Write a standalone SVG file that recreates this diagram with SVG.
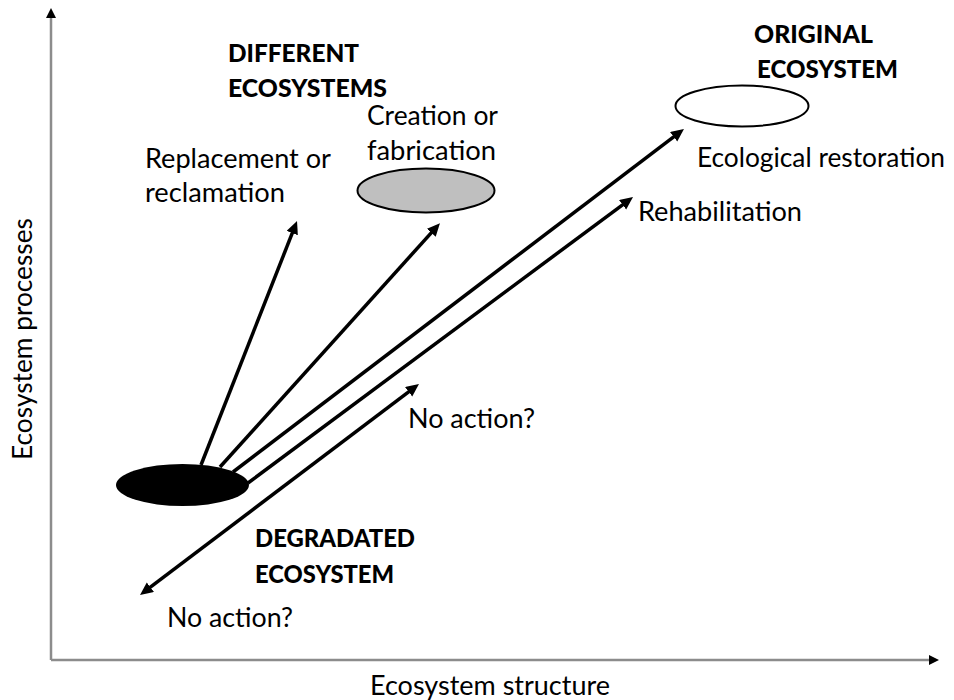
<svg xmlns="http://www.w3.org/2000/svg" width="954" height="700" viewBox="0 0 954 700">
<style>
.t{font-family:Lato,"Open Sans","Liberation Sans",sans-serif;font-size:26px;fill:#000}
.b{font-weight:900;font-size:25px}
.ax{stroke:#8c8c8c;stroke-width:2.5;fill:none}
.ar{stroke:#000;stroke-width:3.5;fill:none}
</style>
<defs>
<marker id="ah" markerUnits="userSpaceOnUse" markerWidth="16" markerHeight="14" refX="5" refY="6" orient="auto-start-reverse"><path d="M0,0 L13,6 L0,12 z" fill="#000"/></marker>
<marker id="axh" markerUnits="userSpaceOnUse" markerWidth="12" markerHeight="12" refX="2" refY="5" orient="auto"><path d="M0,0 L10,5 L0,10 z" fill="#000"/></marker>
</defs>
<rect width="954" height="700" fill="#fff"/>
<g id="axes">
<line class="ax" x1="51" y1="660" x2="51" y2="16" marker-end="url(#axh)"/>
<line class="ax" x1="51" y1="660" x2="931" y2="660" marker-end="url(#axh)"/>
<text class="t" x="490" y="695" text-anchor="middle" textLength="240" lengthAdjust="spacingAndGlyphs">Ecosystem structure</text>
<text class="t" transform="translate(32,339) rotate(-90)" text-anchor="middle" textLength="242" lengthAdjust="spacingAndGlyphs">Ecosystem processes</text>
</g>
<g id="connectors">
<line class="ar" x1="201" y1="465" x2="294.1" y2="228.4" marker-end="url(#ah)"/>
<line class="ar" x1="220" y1="467" x2="434.6" y2="229.1" marker-end="url(#ah)"/>
<line class="ar" x1="233" y1="472" x2="677.6" y2="133.8" marker-end="url(#ah)"/>
<line class="ar" x1="248" y1="483" x2="626.6" y2="201.8" marker-end="url(#ah)"/>
<line class="ar" x1="146.4" y1="590.2" x2="412.6" y2="388.8" marker-start="url(#ah)" marker-end="url(#ah)"/>
</g>
<g id="degraded">
<ellipse cx="182.5" cy="485" rx="66.5" ry="21" fill="#000"/>
<text class="t b" x="255" y="547" textLength="160" lengthAdjust="spacingAndGlyphs">DEGRADATED</text>
<text class="t b" x="255" y="583" textLength="139" lengthAdjust="spacingAndGlyphs">ECOSYSTEM</text>
</g>
<g id="original">
<ellipse cx="742" cy="106" rx="66.5" ry="20.5" fill="#fff" stroke="#000" stroke-width="2"/>
<text class="t b" x="754" y="43" textLength="119" lengthAdjust="spacingAndGlyphs">ORIGINAL</text>
<text class="t b" x="757" y="78" textLength="141" lengthAdjust="spacingAndGlyphs">ECOSYSTEM</text>
</g>
<g id="different">
<text class="t b" x="228" y="62" textLength="131" lengthAdjust="spacingAndGlyphs">DIFFERENT</text>
<text class="t b" x="228" y="97" textLength="159" lengthAdjust="spacingAndGlyphs">ECOSYSTEMS</text>
</g>
<g id="creation">
<ellipse cx="426" cy="190.5" rx="68.5" ry="22" fill="#bfbfbf" stroke="#000" stroke-width="2"/>
<text class="t" x="367" y="125" textLength="131" lengthAdjust="spacingAndGlyphs">Creation or</text>
<text class="t" x="367" y="160" textLength="129" lengthAdjust="spacingAndGlyphs">fabrication</text>
</g>
<g id="replacement">
<text class="t" x="145" y="168" textLength="186" lengthAdjust="spacingAndGlyphs">Replacement or</text>
<text class="t" x="145" y="202" textLength="140" lengthAdjust="spacingAndGlyphs">reclamation</text>
</g>
<g id="restoration">
<text class="t" x="697" y="167" textLength="248" lengthAdjust="spacingAndGlyphs">Ecological restoration</text>
</g>
<g id="rehabilitation">
<text class="t" x="638" y="221" textLength="164" lengthAdjust="spacingAndGlyphs">Rehabilitation</text>
</g>
<g id="noaction1">
<text class="t" x="408" y="428" textLength="127" lengthAdjust="spacingAndGlyphs">No action?</text>
</g>
<g id="noaction2">
<text class="t" x="167" y="627" textLength="126" lengthAdjust="spacingAndGlyphs">No action?</text>
</g>
</svg>
